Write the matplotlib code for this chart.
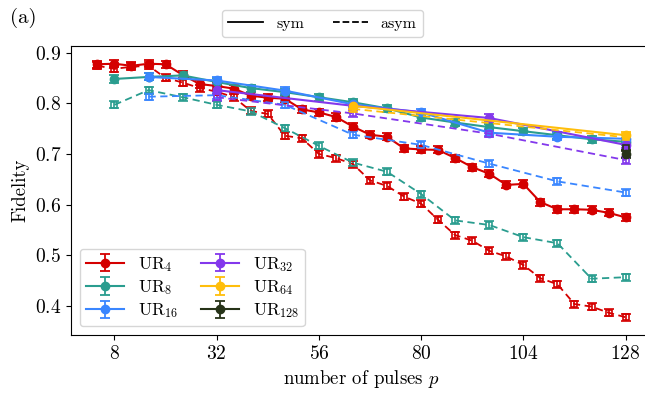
import matplotlib
matplotlib.use("Agg")
import matplotlib.pyplot as plt
from matplotlib.lines import Line2D
import numpy as np

plt.rcParams['font.family'] = 'serif'
plt.rcParams['font.serif'] = ['cmr10', 'DejaVu Serif']
plt.rcParams['mathtext.fontset'] = 'cm'
plt.rcParams['axes.formatter.use_mathtext'] = True

# ---------------- data ----------------
p4 = list(range(4, 129, 4))
p8 = list(range(8, 129, 8))
p16 = list(range(16, 129, 16))
p32 = [32, 64, 96, 128]
p64 = [64, 128]
p128 = [128]

ur4_sym = [0.877, 0.878, 0.874, 0.878, 0.877, 0.856, 0.838, 0.834, 0.829, 0.815, 0.811,
           0.809, 0.788, 0.782, 0.773, 0.754, 0.738, 0.734, 0.711, 0.709, 0.708, 0.692,
           0.674, 0.661, 0.639, 0.641, 0.605, 0.591, 0.591, 0.590, 0.584, 0.575]
ur4_asym = [0.874, 0.868, 0.872, 0.874, 0.850, 0.841, 0.830, 0.823, 0.812, 0.785, 0.779,
            0.736, 0.731, 0.700, 0.692, 0.680, 0.648, 0.637, 0.616, 0.602, 0.570, 0.540,
            0.529, 0.509, 0.498, 0.481, 0.455, 0.443, 0.404, 0.399, 0.387, 0.378]
ur8_sym = [0.848, 0.852, 0.855, 0.842, 0.830, 0.822, 0.812, 0.802, 0.790, 0.772, 0.762,
           0.753, 0.745, 0.737, 0.729, 0.724]
ur8_asym = [0.797, 0.826, 0.812, 0.797, 0.784, 0.751, 0.716, 0.683, 0.665, 0.621, 0.569,
            0.560, 0.536, 0.524, 0.454, 0.457]
ur16_sym = [0.852, 0.845, 0.825, 0.798, 0.782, 0.742, 0.734, 0.730]
ur16_asym = [0.813, 0.816, 0.797, 0.738, 0.718, 0.681, 0.646, 0.624]
ur32_sym = [0.826, 0.795, 0.771, 0.718]
ur32_asym = [0.812, 0.780, 0.740, 0.688]
ur64_sym = [0.795, 0.737]
ur64_asym = [0.789, 0.733]
ur128_sym = [0.700]
ur128_asym = [0.712]
err = 0.007

labels = ['UR$_{4}$', 'UR$_{8}$', 'UR$_{16}$', 'UR$_{32}$', 'UR$_{64}$', 'UR$_{128}$']
colors = ['#d40000', '#2a9d8f', '#3a86ff', '#8338ec', '#ffbe0b', '#263318']
xs = [p4, p8, p16, p32, p64, p128]
syms = [ur4_sym, ur8_sym, ur16_sym, ur32_sym, ur64_sym, ur128_sym]
asyms = [ur4_asym, ur8_asym, ur16_asym, ur32_asym, ur64_asym, ur128_asym]
xticks = [8, 32, 56, 80, 104, 128]

fig = plt.figure(figsize=(6.45, 3.97), dpi=100)
ax = fig.add_axes([71/645, 1-335/397, (652-71)/645, (335-46)/397])

handles = []
for x, s, a, lab, c in zip(xs, syms, asyms, labels, colors):
    h = ax.errorbar(x, s, yerr=err, color=c, marker='o', ms=6, lw=1.5, capsize=3.5,
                    capthick=1.3, elinewidth=1.3, ls='-', label=lab)
    handles.append(h)
    ax.errorbar(x, a, yerr=err, color=c, marker='s', ms=5, mfc='none', mew=1.2,
                lw=1.3, capsize=3.5, capthick=1.3, elinewidth=1.2, ls='--',
                dashes=(4, 2.5))

ax.set_xlim(-2.2, 134.2)
ax.set_ylim(0.343, 0.913)
ax.set_xticks(xticks)
ax.set_yticks([0.4, 0.5, 0.6, 0.7, 0.8, 0.9])
ax.tick_params(labelsize=14)
ax.set_xlabel('number of pulses $p$', fontsize=13.5)
ax.set_ylabel('Fidelity', fontsize=13.5)

leg = ax.legend(handles=handles, loc='lower left', ncol=2, fontsize=12.5,
                handlelength=2.2, columnspacing=1.3, labelspacing=0.25,
                borderpad=0.35, bbox_to_anchor=(0.0, 0.0))

style_handles = [Line2D([], [], color='black', ls='-', lw=1.3),
                 Line2D([], [], color='black', ls='--', lw=1.3)]
fig.legend(handles=style_handles, labels=['sym', 'asym'], loc='upper center',
           bbox_to_anchor=(0.5, 0.995), ncol=2, fontsize=11.5, columnspacing=1.8,
           handlelength=2.2)

fig.text(10/645, 1-18/397, '(a)', fontsize=15, va='center', ha='left')

fig.savefig('out.png', dpi=100)
